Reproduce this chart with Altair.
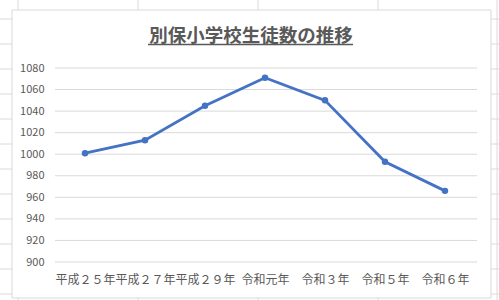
import altair as alt
import pandas as pd

# ---- data ----
years = ["平成２５年", "平成２７年", "平成２９年", "令和元年", "令和３年", "令和５年", "令和６年"]
students = [1001, 1013, 1045, 1071, 1050, 993, 966]
y_ticks = [900, 920, 940, 960, 980, 1000, 1020, 1040, 1060, 1080]
title_text = "別保小学校生徒数の推移"

df = pd.DataFrame({"year": years, "students": students})

# ---- layout (pixels, relative to plot origin) ----
W, H = 420, 194
FONT = "Noto Sans CJK JP"
TXT = "#595959"
sheet_v = [-37, 83, 203, 323, 442]
sheet_h = [-49 + 25 * i for i in range(12)]

yscale = alt.Scale(domain=[900, 1080], nice=False, zero=False)

sheet_vert = alt.Chart(pd.DataFrame({"sx": sheet_v})).mark_rule(
    color="#dadada", strokeWidth=1
).encode(
    x=alt.X("sx:Q", scale=None, axis=None),
    y=alt.value(-68), y2=alt.value(232),
)
sheet_horz = alt.Chart(pd.DataFrame({"sy": sheet_h})).mark_rule(
    color="#dadada", strokeWidth=1
).encode(
    y=alt.Y("sy:Q", scale=None, axis=None),
    x=alt.value(-55), x2=alt.value(444),
)

frame = alt.Chart(pd.DataFrame({"a": [0]})).mark_rect(
    fill="white", stroke="#d9d9d9", strokeWidth=1
).encode(
    x=alt.value(-43), x2=alt.value(436),
    y=alt.value(-58), y2=alt.value(230),
)

grid = alt.Chart(pd.DataFrame({"v": y_ticks})).mark_rule(
    color="#d9d9d9", strokeWidth=1
).encode(
    y=alt.Y("v:Q", scale=yscale, axis=None),
    x=alt.value(0), x2=alt.value(422),
)

title = alt.Chart(pd.DataFrame({"t": [title_text]})).mark_text(
    font=FONT, fontSize=18.5, fontWeight="bold", color=TXT,
    align="center", baseline="middle"
).encode(
    text="t:N", x=alt.value(196), y=alt.value(-32.5)
)
underline = alt.Chart(pd.DataFrame({"a": [0]})).mark_rule(
    color=TXT, strokeWidth=1.3
).encode(
    x=alt.value(93), x2=alt.value(298), y=alt.value(-23.5)
)

line = alt.Chart(df).mark_line(
    color="#4472C4", strokeWidth=2.8,
    point=alt.OverlayMarkDef(size=42, filled=True, color="#4472C4"),
).encode(
    x=alt.X("year:N", sort=years, scale=alt.Scale(type="point", padding=0.5),
            axis=alt.Axis(title=None, labelAngle=0, domain=False, ticks=False, grid=False,
                          labelFont=FONT, labelFontSize=12, labelColor=TXT,
                          labelPadding=12, labelOverlap=False, zindex=1)),
    y=alt.Y("students:Q", scale=yscale,
            axis=alt.Axis(title=None, values=y_ticks, format="d", domain=False, ticks=False,
                          grid=False, labelFont=FONT, labelFontSize=11, labelColor=TXT,
                          labelPadding=11, zindex=1)),
)

chart = alt.layer(
    sheet_vert, sheet_horz, frame, grid, title, underline, line
).resolve_scale(
    x="independent", y="independent"
).properties(
    width=W, height=H,
    autosize=alt.AutoSizeParams(type="none"),
    padding={"left": 55, "top": 68, "right": 24, "bottom": 38},
    background="white",
).configure_view(stroke=None)

chart.save("out.html", embed_options={"renderer": "svg", "actions": False})
